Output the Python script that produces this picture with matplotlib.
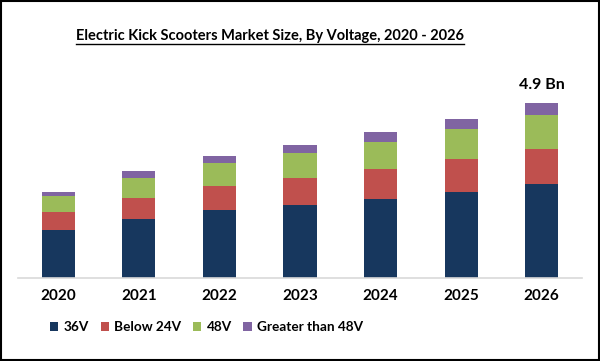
import numpy as np
import matplotlib
matplotlib.use("Agg")
import matplotlib.pyplot as plt
from matplotlib.patches import Rectangle, Patch
from matplotlib.lines import Line2D

years = ["2020", "2021", "2022", "2023", "2024", "2025", "2026"]
series_names = ["36V", "Below 24V", "48V", "Greater than 48V"]
v36 = [1.34, 1.65, 1.90, 2.04, 2.21, 2.41, 2.63]
below24 = [0.50, 0.59, 0.67, 0.76, 0.84, 0.92, 0.98]
v48 = [0.45, 0.56, 0.64, 0.70, 0.76, 0.84, 0.95]
above48 = [0.12, 0.18, 0.20, 0.22, 0.28, 0.28, 0.34]
colors = ["#17375E", "#C0504D", "#9BBB59", "#8064A2"]
top_label = "4.9 Bn"

plt.rcParams["font.family"] = ["Lato", "DejaVu Sans"]

fig = plt.figure(figsize=(6.0, 3.61), dpi=100)
ax = fig.add_axes([0.03, 0.2299, 0.94, 0.604])

x = np.arange(len(years))
bottom = np.zeros(len(years))
for vals, col in zip([v36, below24, v48, above48], colors):
    ax.bar(x, vals, width=0.41, bottom=bottom, color=col, zorder=2)
    bottom += np.array(vals)

ax.text(x[-1], bottom[-1] + 0.3, top_label, ha="center", va="bottom",
        fontsize=11.5, fontweight="bold")

ax.set_xlim(-0.5, 6.5)
ax.set_ylim(0, 6.1)
ax.set_yticks([])
ax.set_xticks(x)
ax.set_xticklabels(years, fontsize=11, fontweight="bold")
ax.tick_params(axis="x", length=0, pad=8)
for s in ["top", "right", "left"]:
    ax.spines[s].set_visible(False)
ax.spines["bottom"].set_color("#D9D9D9")
ax.spines["bottom"].set_linewidth(1.2)

# title with underline
title = fig.text(0.45, 0.900, "Electric Kick Scooters Market Size, By Voltage, 2020 - 2026",
                 ha="center", va="center", fontsize=10.5, fontweight="bold")
fig.canvas.draw()
bb = title.get_window_extent(fig.canvas.get_renderer())
W, H = fig.bbox.width, fig.bbox.height
uy = (bb.y0 - 1) / H
fig.add_artist(Line2D([bb.x0 / W, bb.x1 / W], [uy, uy], color="black", lw=1.0))

handles = [Patch(facecolor=c, edgecolor="none") for c in colors]
fig.legend(handles, series_names, loc="center left", bbox_to_anchor=(0.063, 0.094),
           ncol=4, frameon=False, handlelength=0.6, handleheight=0.6,
           handletextpad=0.4, columnspacing=0.85,
           prop={"weight": "bold", "size": 9.8})

fig.add_artist(Rectangle((0.0015, 0.0025), 0.997, 0.995, transform=fig.transFigure,
                         fill=False, edgecolor="black", lw=1.5))

fig.savefig("out.png", dpi=100)
